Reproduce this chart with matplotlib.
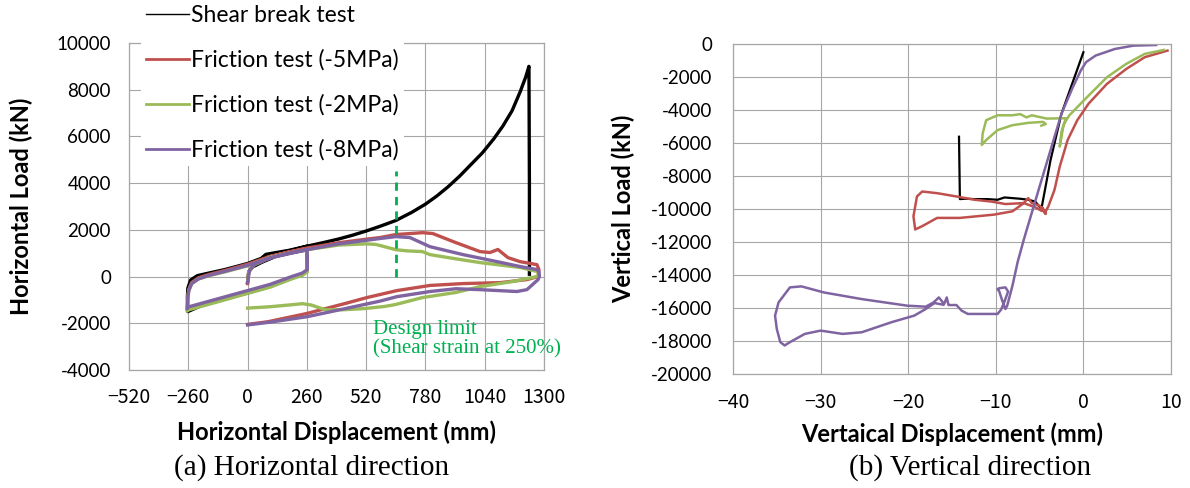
import matplotlib
import matplotlib.pyplot as plt
from matplotlib.lines import Line2D

matplotlib.use("Agg")

# ---- (a) horizontal direction: displacement (mm) vs load (kN) ----
shear_x = [0, 5, 20, 60, 120, 180, 260, 262, 250, 200, 100, 0, -100, -200, -262, -264, -262,
           -250, -220, -170, -100, 0, 60, 80, 120, 180, 260, 330, 400, 460, 520, 580, 650, 720,
           780, 830, 880, 930, 980, 1030, 1080, 1120, 1160, 1195, 1220, 1234, 1236, 1236]
shear_y = [-250, 200, 400, 600, 850, 1080, 1300, 300, 150, -50, -420, -700, -960, -1230, -1500,
           -900, -500, -150, 40, 150, 300, 560, 780, 950, 1020, 1120, 1300, 1450, 1610, 1770,
           1950, 2150, 2400, 2750, 3100, 3450, 3850, 4300, 4800, 5300, 5900, 6450, 7100, 7900,
           8550, 9000, 4000, 100]

f5_x = [0, 5, 30, 100, 180, 260, 262, 262, 240, 193, 100, 0, -130, -260, -265, -262, -258, -245,
        -215, -170, -100, 0, 100, 260, 400, 520, 581, 651, 769, 813, 901, 1019, 1063, 1098, 1142,
        1195, 1269, 1278, 1274, 1225, 1107, 945, 800, 655, 523, 429, 260, 91, 0]
f5_y = [-300, 200, 550, 850, 1050, 1200, 1000, 250, 100, -60, -400, -680, -1030, -1400, -1450,
        -900, -550, -250, -50, 90, 260, 530, 870, 1220, 1450, 1600, 1670, 1800, 1880, 1840, 1500,
        1070, 1030, 1160, 810, 640, 510, 300, 0, -130, -260, -300, -380, -600, -900, -1150, -1580,
        -1930, -2050]

f2_x = [0, 5, 30, 100, 180, 260, 262, 262, 240, 193, 100, 0, -130, -260, -265, -262, -258, -245,
        -215, -170, -100, 0, 100, 260, 400, 520, 560, 581, 651, 700, 766, 800, 900, 1019, 1195,
        1269, 1278, 1269, 1164, 1019, 914, 766, 648, 600, 513, 420, 340, 280, 240, 200, 100, 0]
f2_y = [-200, 200, 500, 820, 1000, 1130, 900, 200, 50, -100, -450, -720, -1080, -1430, -1480,
        -950, -600, -300, -100, 40, 200, 460, 820, 1150, 1350, 1400, 1380, 1330, 1150, 1100, 1070,
        940, 780, 600, 390, 220, 100, 0, -210, -430, -680, -900, -1200, -1280, -1370, -1420,
        -1420, -1220, -1160, -1200, -1290, -1350]

f8_x = [0, 8, 30, 100, 180, 260, 262, 262, 240, 193, 100, 0, -130, -260, -265, -262, -258, -245,
        -215, -170, -100, 0, 100, 260, 400, 520, 581, 651, 712, 800, 945, 1094, 1195, 1269, 1278,
        1280, 1274, 1225, 1181, 1019, 914, 800, 655, 581, 429, 260, 100, 0]
f8_y = [-250, 250, 520, 800, 1000, 1150, 900, 300, 150, 0, -330, -600, -950, -1300, -1380, -900,
        -600, -300, -100, 50, 220, 480, 800, 1150, 1400, 1550, 1630, 1710, 1670, 1280, 940, 640,
        430, 300, 200, 0, -130, -560, -640, -560, -520, -640, -860, -1050, -1370, -1720, -1950,
        -2070]

design_limit_x = [651, 651]
design_limit_y = [0, 4500]

# ---- (b) vertical direction: displacement (mm) vs load (kN) ----
v_shear_x = [0, -2.5, -3.75, -4.6, -4.8, -5.5, -6.3, -7.2, -8.1, -9.0, -9.8, -11.0, -12.4,
             -13.5, -14.1, -14.2]
v_shear_y = [-500, -4220, -7030, -9440, -10000, -9550, -9440, -9380, -9340, -9300, -9440,
             -9400, -9400, -9380, -9400, -5620]

v_f5_x = [9.6, 7, 4.9, 2.7, 0.6, -0.7, -1.8, -2.7, -3.3, -4.0, -4.4, -4.7, -4.3, -5.0, -5.9,
          -6.3, -6.8, -8.9, -10.5, -12.4, -14.5, -16.7, -18.4, -19.0, -19.4, -19.2, -18.4, -16.7,
          -14.1, -10.2, -8.1, -6.8, -5.5, -4.8]
v_f5_y = [-400, -800, -1510, -2410, -3610, -4620, -5820, -7430, -8840, -9840, -10240, -9900,
          -10300, -9800, -9640, -9340, -9640, -9700, -9550, -9440, -9240, -9040, -8940, -9240,
          -10440, -11240, -11040, -10540, -10540, -10340, -10140, -9640, -9900, -10100]

v_f2_x = [9.2, 7, 4.9, 2.7, 1.0, -0.3, -1.6, -2.2, -2.5, -2.7, -2.3, -2.0, -4.2, -5.9, -6.5,
          -7.2, -8.1, -9.8, -11.1, -11.5, -11.6, -11.1, -9.8, -8.1, -6.3, -4.6, -4.3, -4.8]
v_f2_y = [-360, -600, -1200, -2010, -2910, -3610, -4320, -4820, -5300, -6220, -5000, -4500,
          -4520, -4320, -4450, -4250, -4320, -4320, -4620, -5420, -6120, -5820, -5220, -4920,
          -4780, -4720, -4850, -4950]

v_f8_x = [8.3, 5.7, 3.6, 1.4, 0.3, -0.3, -1.2, -2.5, -3.75, -5.0, -5.9, -6.8, -7.5, -8.1, -8.7,
          -8.9, -9.3, -9.6, -9.8, -9.6, -8.9, -8.6, -9.0, -9.4, -9.8, -11.0, -12.4, -13.2, -13.9,
          -14.5, -15.4, -15.6, -15.9, -16.5, -17.1, -18.0, -20.1, -25.3, -29.6, -32.2, -33.5,
          -34.8, -35.2, -35.0, -34.6, -34.1, -33.5, -31.8, -30.0, -27.5, -25.3, -21.9, -19.3,
          -18.0, -17.0, -16.0]
v_f8_y = [-60, -100, -300, -700, -1100, -1610, -2610, -4220, -6430, -8640, -10240, -11850,
          -13200, -14650, -15860, -16060, -15500, -15000, -14850, -14800, -14750, -15000, -15600,
          -16100, -16360, -16360, -16360, -16360, -16160, -15820, -15820, -15360, -15760, -15360,
          -15660, -15920, -15860, -15460, -15060, -14690, -14750, -15660, -16460, -17270, -18070,
          -18270, -18070, -17570, -17370, -17570, -17470, -16860, -16460, -16060, -15700, -15800]

h_xticks = [-520, -260, 0, 260, 520, 780, 1040, 1300]
h_yticks = [-4000, -2000, 0, 2000, 4000, 6000, 8000, 10000]
v_xticks = [-40, -30, -20, -10, 0, 10]
v_yticks = list(range(-20000, 1, 2000))

labels = ["Shear break test", "Friction test (-5MPa)", "Friction test (-2MPa)",
          "Friction test (-8MPa)"]

BLACK = "#000000"
RED = "#c0504d"
GREEN = "#9bbb59"
PURPLE = "#8064a2"
LIMIT = "#00b050"
GRID = "#a6a6a6"

SANS = ["Lato", "DejaVu Sans"]
TICKX = ["Noto Sans CJK JP", "DejaVu Sans"]


def style_axes(ax, xticks, yticks, xpad, ypad):
    ax.set_xticks(xticks)
    ax.set_yticks(yticks)
    ax.set_xticklabels([f"{t}".replace("-", "\u2212") for t in xticks], family=TICKX, fontsize=14)
    ax.set_yticklabels([f"{t}" for t in yticks], family=SANS, fontsize=13.5)
    ax.tick_params(length=0)
    ax.tick_params(axis="x", pad=xpad)
    ax.tick_params(axis="y", pad=ypad)
    ax.grid(True, color=GRID, lw=0.8)
    ax.set_axisbelow(True)
    for s in ax.spines.values():
        s.set_color(GRID)
        s.set_linewidth(0.9)


fig = plt.figure(figsize=(11.9, 4.88), dpi=100)

# (a)
ax1 = fig.add_axes([129 / 1190, 1 - 370 / 488, 415 / 1190, 327 / 488])
ax1.plot(shear_x, shear_y, color=BLACK, lw=2.4, solid_joinstyle="round")
ax1.plot(f5_x, f5_y, color=RED, lw=2.4, solid_joinstyle="round")
ax1.plot(f2_x, f2_y, color=GREEN, lw=2.4, solid_joinstyle="round")
ax1.plot(f8_x, f8_y, color=PURPLE, lw=2.4, solid_joinstyle="round")
ax1.plot(design_limit_x, design_limit_y, color=LIMIT, lw=2.0, ls=(0, (3, 2.2)))
ax1.set_xlim(-520, 1300)
ax1.set_ylim(-4000, 10000)
style_axes(ax1, h_xticks, h_yticks, 12, 13)
ax1.set_xlabel("Horizontal Displacement (mm)", family=SANS, fontweight="bold", fontsize=17,
               labelpad=9)
ax1.set_ylabel("Horizontal Load (kN)", family=SANS, fontweight="bold", fontsize=17, labelpad=17)
ax1.text(550, -1850, "Design limit\n(Shear strain at 250%)", color=LIMIT,
         family="Liberation Serif", fontsize=15, va="top", ha="left", linespacing=1.05)

handles = [Line2D([], [], color=BLACK, lw=1.0), Line2D([], [], color=RED, lw=2.0),
           Line2D([], [], color=GREEN, lw=2.0), Line2D([], [], color=PURPLE, lw=2.0)]
leg = ax1.legend(handles, labels, loc="upper left", bbox_to_anchor=(141 / 1190, 1.0),
                 bbox_transform=fig.transFigure, prop={"family": SANS, "size": 16.5},
                 frameon=True, facecolor="white", edgecolor="none", framealpha=1,
                 fancybox=False, borderpad=0.2, borderaxespad=0, labelspacing=1.03,
                 handlelength=1.9, handletextpad=0.1)

# (b)
ax2 = fig.add_axes([733 / 1190, 1 - 374 / 488, 438 / 1190, 330 / 488])
ax2.plot(v_shear_x, v_shear_y, color=BLACK, lw=1.6, solid_joinstyle="round")
ax2.plot(v_f5_x, v_f5_y, color=RED, lw=1.8, solid_joinstyle="round")
ax2.plot(v_f2_x, v_f2_y, color=GREEN, lw=1.8, solid_joinstyle="round")
ax2.plot(v_f8_x, v_f8_y, color=PURPLE, lw=1.8, solid_joinstyle="round")
ax2.set_xlim(-40, 10)
ax2.set_ylim(-20000, 0)
style_axes(ax2, v_xticks, v_yticks, 13, 15)
ax2.set_xlabel("Vertaical Displacement (mm)", family=SANS, fontweight="bold", fontsize=17,
               labelpad=7)
ax2.set_ylabel("Vertical Load (kN)", family=SANS, fontweight="bold", fontsize=17, labelpad=11)

fig.text(312 / 1190, 1 - 468 / 488, "(a) Horizontal direction", family="Liberation Serif",
         fontsize=21, ha="center", va="center")
fig.text(970 / 1190, 1 - 468 / 488, "(b) Vertical direction", family="Liberation Serif",
         fontsize=21, ha="center", va="center")

fig.savefig("out.png", dpi=100)
